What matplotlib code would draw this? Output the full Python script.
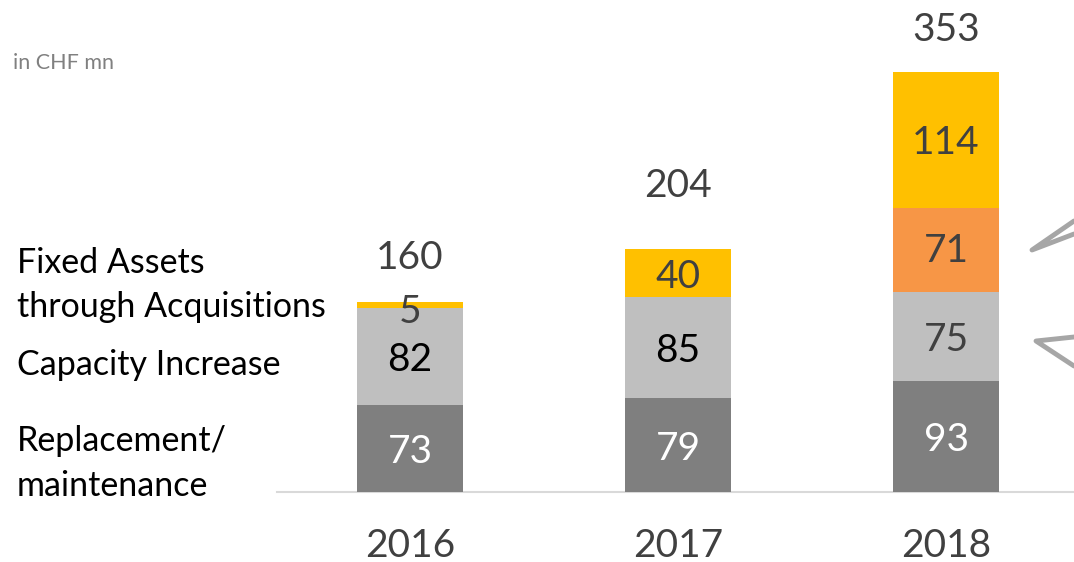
import numpy as np
import matplotlib
matplotlib.use('Agg')
import matplotlib.pyplot as plt

plt.rcParams['font.family'] = ['Lato', 'DejaVu Sans']

years = ['2016', '2017', '2018']
replacement = [73, 79, 93]
capacity = [82, 85, 75]
acq_orange = [0, 0, 71]
acq_yellow = [5, 40, 114]
totals = [160, 204, 353]

c_dark = '#7F7F7F'
c_light = '#BFBFBF'
c_orange = '#F79646'
c_yellow = '#FFC000'
c_text = '#404040'

W, H = 1074, 562
px_per_unit = 1.19
base_px = 492  # baseline, pixels from top


def py(p):
    # pixel row from top -> data y
    return (base_px - p) / px_per_unit


def px(p):
    # pixel column -> data x
    return (p - 410) / 268.0


fig = plt.figure(figsize=(W / 100, H / 100), dpi=100)
ax = fig.add_axes([0, 0, 1, 1])
ax.set_xlim(px(0), px(W))
ax.set_ylim(py(H), py(0))
ax.axis('off')

x = np.arange(len(years))
w = 106 / 268.0
rep = np.array(replacement)
cap = np.array(capacity)
ora = np.array(acq_orange)
yel = np.array(acq_yellow)

ax.bar(x, rep, w, color=c_dark, zorder=2)
ax.bar(x, cap, w, bottom=rep, color=c_light, zorder=2)
ax.bar(x, ora, w, bottom=rep + cap, color=c_orange, zorder=2)
ax.bar(x, yel, w, bottom=rep + cap + ora, color=c_yellow, zorder=2)

ax.plot([px(277), px(W)], [0, 0], color='#D9D9D9', lw=1.5, zorder=1)

fs = 28
total_gap = [37, 53, 35]
for i in range(len(years)):
    ax.text(x[i], rep[i] / 2 - 3, str(rep[i]), ha='center', va='center',
            fontsize=fs, color='white', zorder=3)
    ax.text(x[i], rep[i] + cap[i] / 2 - 3, str(cap[i]), ha='center', va='center',
            fontsize=fs, color='black' if i < 2 else c_text, zorder=3)
    if ora[i] > 0:
        ax.text(x[i], rep[i] + cap[i] + ora[i] / 2 - 1, str(ora[i]), ha='center', va='center',
                fontsize=fs, color=c_text, zorder=3)
    ytop = rep[i] + cap[i] + ora[i]
    if yel[i] > 10:
        ax.text(x[i], ytop + yel[i] / 2 - 3, str(yel[i]), ha='center', va='center',
                fontsize=fs, color=c_text, zorder=3)
    else:
        ax.text(x[i], ytop - 4, str(yel[i]), ha='center', va='center',
                fontsize=fs, color=c_text, zorder=3)
    ax.text(x[i], totals[i] + total_gap[i], str(totals[i]), ha='center', va='center',
            fontsize=fs, color=c_text, zorder=3)
    ax.text(x[i], py(546), years[i], ha='center', va='center', fontsize=fs,
            color=c_text, zorder=3)

lfs = 24.5
ax.text(px(17), py(263), 'Fixed Assets', ha='left', va='center', fontsize=lfs, color='black')
ax.text(px(17), py(307), 'through Acquisitions', ha='left', va='center', fontsize=lfs, color='black')
ax.text(px(17), py(365), 'Capacity Increase', ha='left', va='center', fontsize=lfs, color='black')
ax.text(px(17), py(441), 'Replacement/', ha='left', va='center', fontsize=lfs, color='black')
ax.text(px(17), py(486), 'maintenance', ha='left', va='center', fontsize=lfs, color='black')

ax.text(px(13), py(63), 'in CHF mn', ha='left', va='center', fontsize=15.5, color='#808080')

# callout wedges cut off at the right edge
g = '#A6A6A6'
ax.plot([px(1074), px(1032), px(1074)], [py(221), py(250), py(234)],
        color=g, lw=3.5, solid_capstyle='round', solid_joinstyle='round', zorder=1)
ax.plot([px(1074), px(1036), px(1074)], [py(337), py(341), py(366)],
        color=g, lw=3.5, solid_capstyle='round', solid_joinstyle='round', zorder=1)

fig.savefig('out.png', dpi=100)
